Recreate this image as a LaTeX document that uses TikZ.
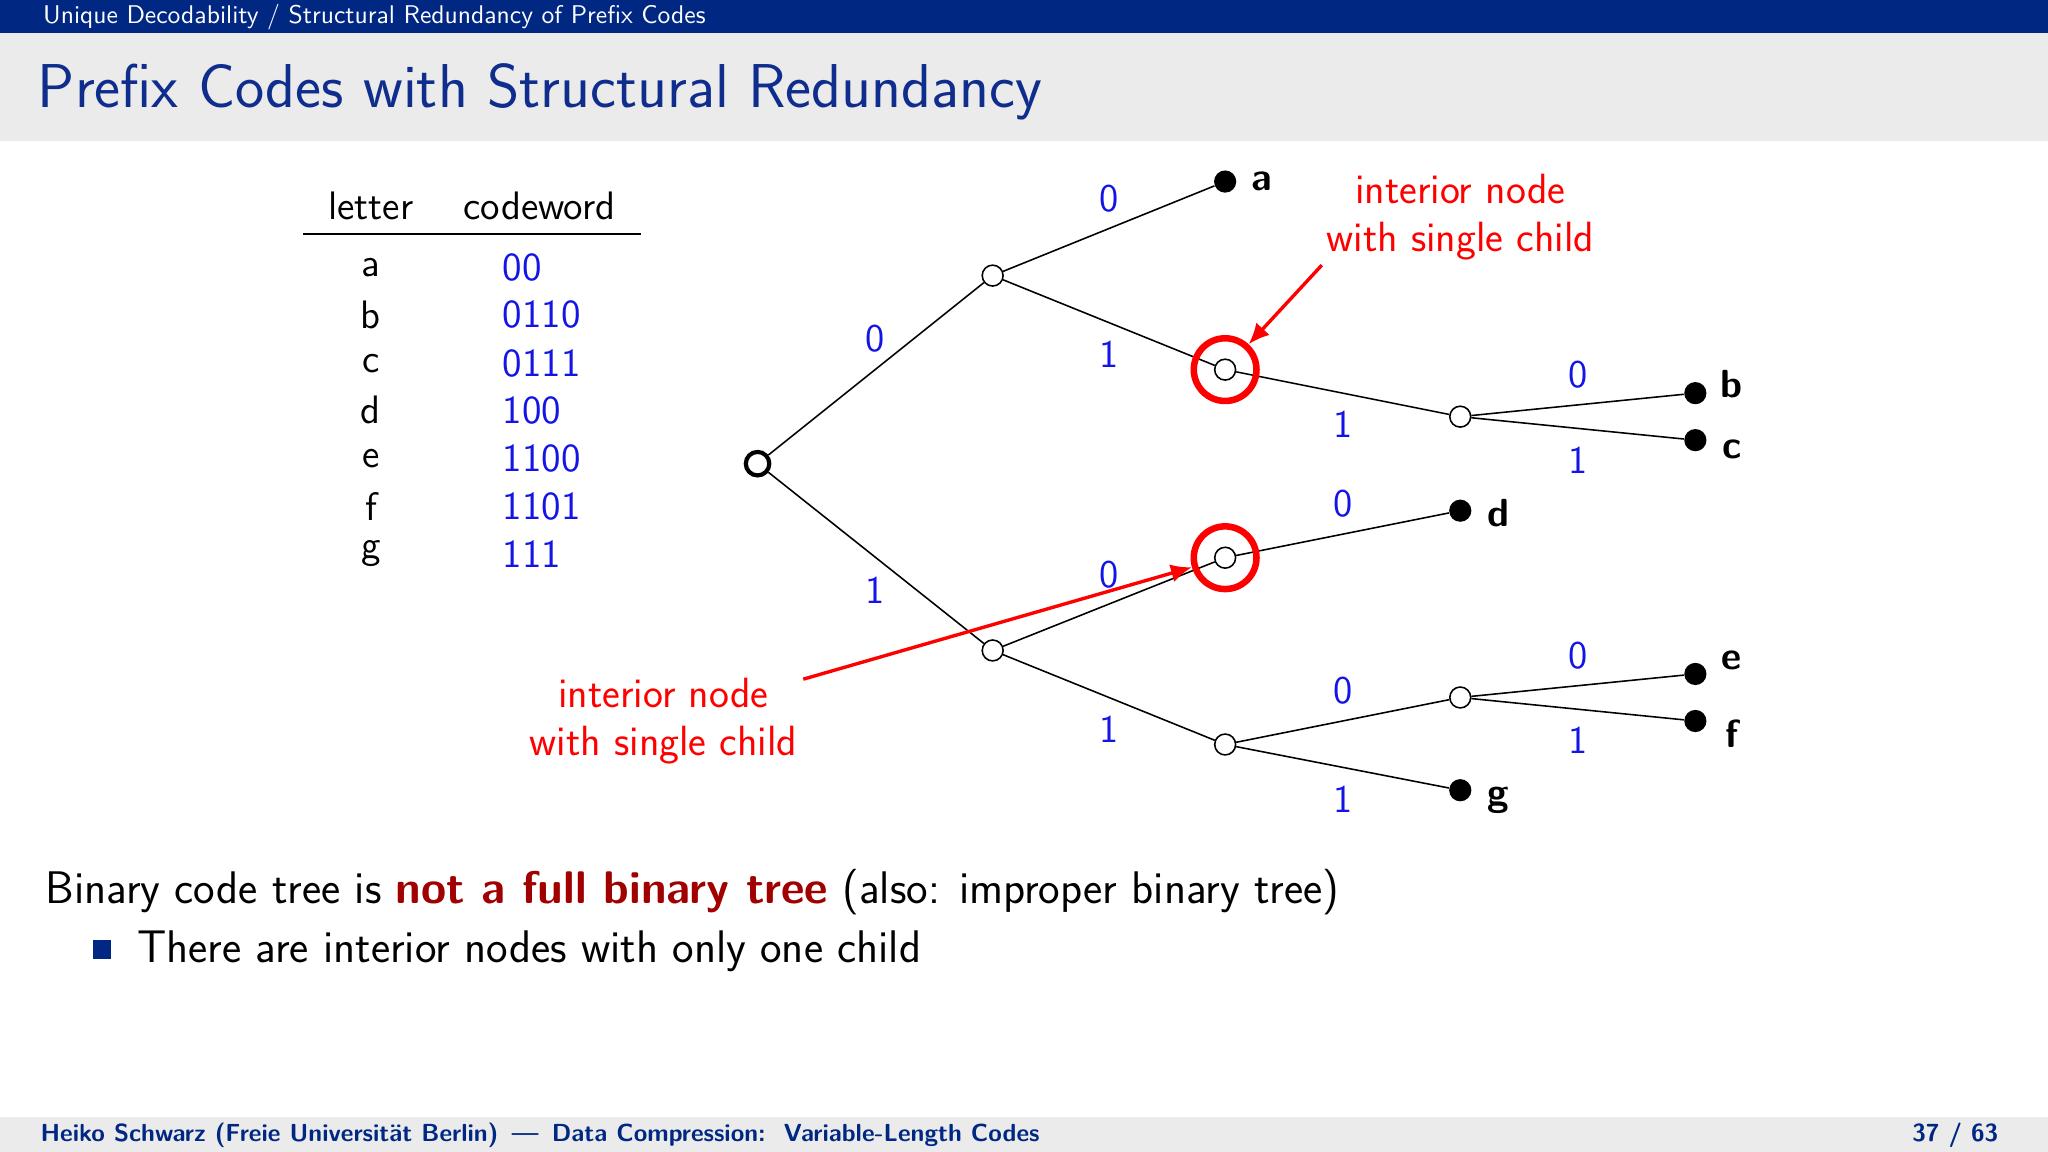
\documentclass[tikz,border=0pt]{standalone}
\usepackage{fontspec}
\renewcommand\familydefault{\sfdefault}
\usetikzlibrary{arrows.meta}
\definecolor{hdr}{RGB}{0,40,130}
\definecolor{ttl}{RGB}{15,45,140}
\definecolor{band}{RGB}{235,235,235}
\definecolor{dred}{RGB}{160,0,0}
\definecolor{lab}{RGB}{20,20,230}
\begin{document}
\begin{tikzpicture}[x=0.5pt,y=-0.5pt,
  inner/.style={circle,draw,fill=white,inner sep=0pt,minimum size=8pt,line width=0.6pt},
  leaf/.style={circle,fill=black,inner sep=0pt,minimum size=8.5pt},
  edge/.style={line width=0.6pt},
  el/.style={text=lab,font=\fontsize{15}{16}\selectfont},
  ll/.style={font=\bfseries\fontsize{15}{16}\selectfont},
  txt/.style={font=\fontsize{15.2}{17}\selectfont},
  big/.style={font=\fontsize{17.5}{20}\selectfont},
  red/.style={text=red,font=\fontsize{16.2}{18.5}\selectfont,align=center},
  hl/.style={circle,draw=red,line width=2.5pt,minimum size=24pt,inner sep=0pt},
  rarr/.style={draw=red,line width=1.3pt,-{Latex[length=8pt,width=7pt]}}]
\useasboundingbox (0,0) rectangle (1568,882);
\fill[hdr] (0,0) rectangle (1568,25);
\fill[band] (0,25) rectangle (1568,108);
\fill[band] (0,855) rectangle (1568,882);
\node[anchor=west,text=white,font=\fontsize{9.8}{11}\selectfont] (h) at (26,13) {Unique Decodability / Structural Redundancy of Prefix Codes};
\node[anchor=west,text=ttl,font=\fontsize{23.7}{26}\selectfont] (t) at (22,70) {Prefix Codes with Structural Redundancy};
\node[anchor=west,text=hdr,font=\bfseries\fontsize{9.45}{11}\selectfont] (fl) at (24,869) {Heiko Schwarz (Freie Universität Berlin) \,---\, Data Compression:\ \ Variable-Length Codes};
\node[anchor=east,text=hdr,font=\bfseries\fontsize{9.45}{11}\selectfont] (fr) at (1537,869) {37 / 63};
% table
\node[txt] (lh) at (284,158) {letter};
\node[txt] (ch) at (413,158) {codeword};
\draw[line width=0.6pt] (232,179) -- (491,179);
\foreach \l/\c/\y in {a/00/205,b/0110/241,c/0111/278,d/100/314,e/1100/351,f/1101/388,g/111/424}{
  \node[txt] (L\l) at (284,\y) {\l};
  \node[txt,anchor=west,text=lab] (C\l) at (378,\y) {\c};
}
% tree
\node[inner,line width=1.6pt,minimum size=9pt] (r) at (580,355) {};
\node[inner] (n0) at (760,211) {};
\node[inner] (n01) at (938,283) {};
\node[inner] (n011) at (1118,319) {};
\node[inner] (n1) at (760,498) {};
\node[inner] (n10) at (938,427) {};
\node[inner] (n11) at (938,570) {};
\node[inner] (n110) at (1118,534) {};
\node[leaf] (a) at (938,139) {};
\node[leaf] (b) at (1298,301) {};
\node[leaf] (c) at (1298,337) {};
\node[leaf] (d) at (1118,391) {};
\node[leaf] (e) at (1298,516) {};
\node[leaf] (f) at (1298,552) {};
\node[leaf] (g) at (1118,605) {};
\foreach \u/\v in {r/n0,r/n1,n0/a,n0/n01,n01/n011,n011/b,n011/c,n1/n10,n1/n11,n10/d,n11/n110,n11/g,n110/e,n110/f}
  \draw[edge] (\u) -- (\v);
\foreach \p/\s in {{670,259}/0,{670,452}/1,{849,152}/0,{849,271}/1,{1028,325}/1,{1208,287}/0,{1208,352}/1,{849,440}/0,{1028,386}/0,{849,558}/1,{1028,529}/0,{1028,612}/1,{1208,502}/0,{1208,567}/1}
  \node[el] at (\p) {\s};
\node[ll] (la) at (966,139) {a};
\node[ll] (lb) at (1326,294) {b};
\node[ll] (lc) at (1326,344) {c};
\node[ll] (ld) at (1147,393) {d};
\node[ll] (le) at (1326,506) {e};
\node[ll] (lf) at (1326,562) {f};
\node[ll] (lg) at (1147,613) {g};
\node[hl] (h1) at (n01) {};
\node[hl] (h2) at (n10) {};
\node[red] (t1) at (1118,166) {interior node\\with single child};
\node[red] (t2) at (508,552) {interior node\\with single child};
\coordinate (s1) at (1012,203);
\coordinate (s2) at (615,520);
\draw[rarr] (s1) -- (h1);
\draw[rarr] (s2) -- (h2);
% bottom text
\node[big,anchor=west] (bt) at (28,683) {Binary code tree is \textcolor{dred}{\bfseries not a full binary tree} (also: improper binary tree)};
\fill[hdr] (71,720) rectangle (85,734);
\node[big,anchor=west] (bl) at (98,728) {There are interior nodes with only one child};
\end{tikzpicture}
\end{document}
